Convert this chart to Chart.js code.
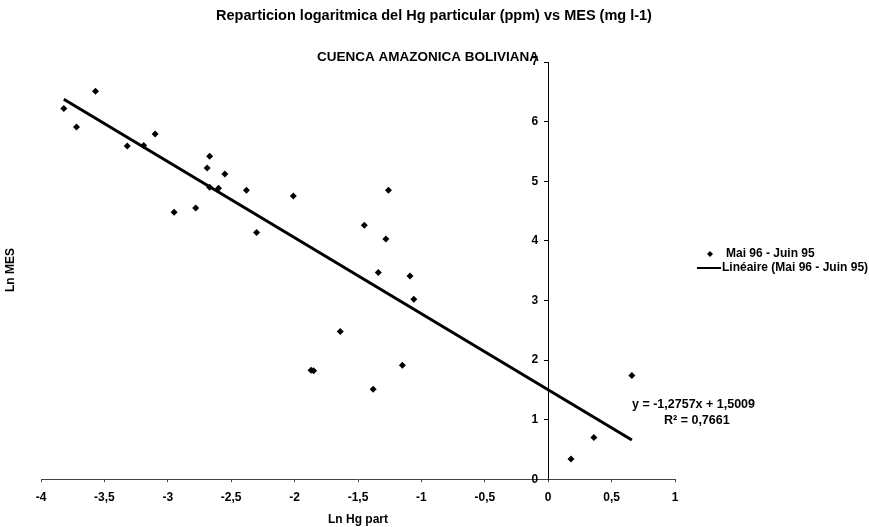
<!DOCTYPE html>
<html>
<head>
<meta charset="utf-8">
<title>Reparticion logaritmica del Hg particular</title>
<script src="https://cdn.jsdelivr.net/npm/chart.js@4.4.1/dist/chart.umd.min.js"></script>
<style>
  html, body { margin: 0; padding: 0; background: #fff; }
  #wrap { width: 869px; height: 527px; }
</style>
</head>
<body>
<div id="wrap"><canvas id="grafico"></canvas></div>
<script>
  // datos (Ln Hg part, Ln MES)
  const lnHgPart = [-3.82, -3.57, -3.72, -3.32, -3.19, -3.10, -2.67, -2.69, -2.55, -2.67,
                    -2.60, -2.38, -2.01, -2.95, -2.78, -2.30, -1.26, -1.45, -1.28, -1.34,
                    -1.09, -1.06, -1.64, -1.87, -1.85, -1.15, -1.38, 0.66, 0.36, 0.18];
  const lnMes = [6.22, 6.51, 5.91, 5.59, 5.60, 5.79, 5.42, 5.22, 5.12, 4.90,
                 4.88, 4.85, 4.75, 4.48, 4.55, 4.14, 4.85, 4.26, 4.03, 3.47,
                 3.41, 3.02, 2.48, 1.83, 1.82, 1.91, 1.51, 1.74, 0.70, 0.34];

  // tendencia lineal (tal como aparece en el grafico)
  const pendiente = -1.2757;
  const ordenada = 1.5009;
  const r2 = '0,7661';

  const serieNombre = 'Mai 96 - Juin 95';
  const tendNombre = 'Linéaire (Mai 96 - Juin 95)';
  const titulo = 'Reparticion logaritmica del Hg particular (ppm) vs MES (mg l-1)';
  const subtitulo = 'CUENCA AMAZONICA BOLIVIANA';

  const xMin = -4, xMax = 1, xPaso = 0.5;
  const yMin = 0, yMax = 7, yPaso = 1;

  const puntos = lnHgPart.map((x, i) => ({ x: x, y: lnMes[i] }));
  const xIni = Math.min(...lnHgPart);
  const xFin = Math.max(...lnHgPart);
  const linea = [
    { x: xIni, y: pendiente * xIni + ordenada },
    { x: xFin, y: pendiente * xFin + ordenada }
  ];

  const fuente = '"Liberation Sans", Arial, sans-serif';
  const coma = v => String(v).replace('.', ',');

  // textos: titulos, leyenda, ecuacion y titulo del eje Y
  const textos = {
    id: 'textos',
    afterDraw(chart) {
      const c = chart.ctx;
      c.save();
      c.fillStyle = '#000';
      c.textBaseline = 'middle';
      c.textAlign = 'center';

      c.font = 'bold 14.5px ' + fuente;
      c.fillText(titulo, 434, 16);
      c.font = 'bold 13.5px ' + fuente;
      c.fillText(subtitulo, 428, 57);

      // leyenda
      c.font = 'bold 12px ' + fuente;
      c.textAlign = 'left';
      c.beginPath();
      c.moveTo(710, 251); c.lineTo(713, 254); c.lineTo(710, 257); c.lineTo(707, 254);
      c.closePath(); c.fill();
      c.fillText(serieNombre, 726, 254);
      c.lineWidth = 2;
      c.strokeStyle = '#000';
      c.beginPath(); c.moveTo(697, 268); c.lineTo(721, 268); c.stroke();
      c.fillText(tendNombre, 722, 268);

      // ecuacion
      c.font = 'bold 12.5px ' + fuente;
      c.fillText('y = ' + coma(pendiente) + 'x + ' + coma(ordenada), 632, 405);
      c.fillText('R² = ' + r2, 664, 421);

      // titulo eje Y
      c.font = 'bold 12px ' + fuente;
      c.translate(11, 270);
      c.rotate(-Math.PI / 2);
      c.textAlign = 'center';
      c.fillText('Ln MES', 0, 0);
      c.restore();
    }
  };

  new Chart(document.getElementById('grafico'), {
    type: 'scatter',
    data: {
      datasets: [
        {
          label: serieNombre,
          data: puntos,
          pointStyle: 'rectRot',
          pointRadius: 3.5,
          pointHoverRadius: 3.5,
          backgroundColor: '#000',
          borderColor: '#000',
          borderWidth: 0
        },
        {
          label: tendNombre,
          type: 'line',
          data: linea,
          borderColor: '#000',
          borderWidth: 3,
          pointRadius: 0,
          fill: false,
          tension: 0
        }
      ]
    },
    options: {
      responsive: true,
      maintainAspectRatio: false,
      animation: false,
      layout: { padding: { left: 41, right: 194, top: 62, bottom: 0 } },
      plugins: {
        legend: { display: false },
        title: { display: false },
        tooltip: { enabled: false }
      },
      scales: {
        x: {
          type: 'linear',
          position: 'bottom',
          min: xMin,
          max: xMax,
          grid: { drawOnChartArea: false, tickLength: 3, color: '#444' },
          border: { color: '#444', width: 1 },
          ticks: {
            stepSize: xPaso,
            autoSkip: false,
            color: '#000',
            padding: 8,
            font: { family: fuente, size: 12, weight: 'bold' },
            callback: v => coma(v)
          },
          title: {
            display: true,
            text: 'Ln Hg part',
            color: '#000',
            padding: { top: 0, bottom: 0 },
            font: { family: fuente, size: 12, weight: 'bold' }
          }
        },
        y: {
          type: 'linear',
          position: { x: 0 },
          min: yMin,
          max: yMax,
          grid: { drawOnChartArea: false, tickLength: 4, color: '#000' },
          border: { color: '#000', width: 1 },
          ticks: {
            stepSize: yPaso,
            color: '#000',
            font: { family: fuente, size: 12, weight: 'bold' },
            // el eje cruza en x = 0: separar la etiqueta del eje
            callback: v => v + '   '
          }
        }
      }
    },
    plugins: [textos]
  });
</script>
</body>
</html>
